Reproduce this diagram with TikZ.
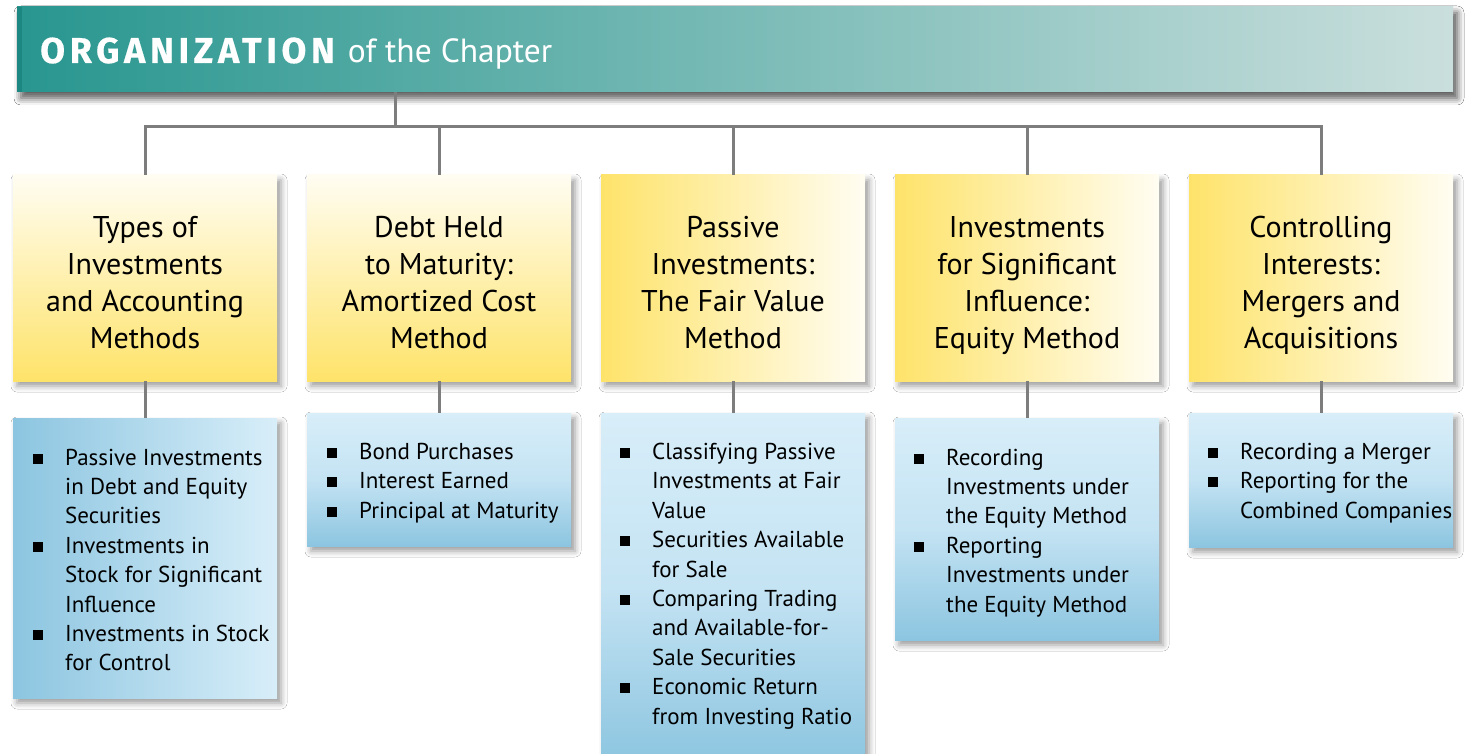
\documentclass[tikz,border=0pt]{standalone}
\usepackage{fontspec}
\setmainfont{PT Sans}
\newfontfamily\titlefont{Fira Sans}[LetterSpace=13,FakeBold=0.5]
\usetikzlibrary{shadows.blur}
\definecolor{tealL}{RGB}{40,150,143}
\definecolor{tealR}{RGB}{202,223,221}
\definecolor{tealS}{RGB}{28,135,128}
\definecolor{yD}{RGB}{254,227,106}
\definecolor{yL}{RGB}{255,253,242}
\definecolor{bD}{RGB}{140,197,224}
\definecolor{bL}{RGB}{216,238,249}
\definecolor{bM}{RGB}{196,227,243}
\definecolor{lineg}{RGB}{125,125,125}
\newcommand\ylines[1]{\vtop{\baselineskip=37.3pt\lineskiplimit=-50pt\halign{\hfil##\hfil\cr#1\crcr}}}
\newcommand\blines[1]{\vtop{\baselineskip=29.4pt\lineskiplimit=-50pt\halign{##\hfil\cr#1\crcr}}}
\newcommand\bt{\llap{\raisebox{1.5pt}{\rule{10pt}{10pt}}\hspace{22pt}}}
\begin{document}
\begin{tikzpicture}[x=1pt,y=-1pt,
  box/.style={draw=none,inner sep=0,outer sep=0,anchor=north west,minimum width=264pt,
    blur shadow={shadow xshift=4pt,shadow yshift=-5pt,shadow blur radius=6pt,shadow opacity=40}},
  yv/.style={box,minimum height=206pt,top color=yL,bottom color=yD},
  yh/.style={box,minimum height=206pt,left color=yD,right color=yL},
  bh/.style={box,left color=bD,right color=bL},
  bv/.style={box,top color=bL,bottom color=bD,middle color=bM},
  conn/.style={draw=lineg,line width=3pt},
  ytext/.style={anchor=base,inner sep=0,font=\fontsize{30}{37.3}\selectfont},
  btext/.style={anchor=base west,inner sep=0,font=\fontsize{23}{29.4}\selectfont}]
\useasboundingbox[fill=white] (0,0) rectangle (1466,754);
% header
\node[box,minimum width=1436pt,minimum height=85pt,left color=tealL,right color=tealR,
  blur shadow={shadow xshift=4pt,shadow yshift=-6pt,shadow blur radius=7pt,shadow opacity=40}] (hdr) at (17,7) {};
\node[draw=none,fill=tealS,inner sep=0,outer sep=0,anchor=north west,minimum width=5pt,minimum height=85pt] (hstrip) at (17,7) {};
\node[anchor=base west,inner sep=0,text=white] (title) at (40,63)
  {{\titlefont\bfseries\fontsize{36}{36}\selectfont ORGANIZATION}\hspace{13pt}{\fontsize{33.5}{35}\selectfont of the Chapter}};
% yellow boxes
\node[yv] (y1) at (13,175) {};
\node[yv] (y2) at (307,175) {};
\node[yh] (y3) at (601,175) {};
\node[yh] (y4) at (895,175) {};
\node[yh] (y5) at (1189,175) {};
% blue boxes
\node[bh,minimum height=280pt] (b1) at (13,418) {};
\node[bv,minimum height=133pt] (b2) at (307,413) {};
\node[bv,minimum height=350pt] (b3) at (601,413) {};
\node[bv,minimum height=222pt] (b4) at (895,418) {};
\node[bv,minimum height=134pt] (b5) at (1189,413) {};
% connectors
\coordinate (j) at (395,127);
\draw[conn] (hdr.south -| j) -- (j);
\draw[conn] (y1.north) -- (y1.north |- j) -- (y5.north |- j) -- (y5.north);
\foreach \i in {2,3,4}{\draw[conn] (y\i.north) -- (y\i.north |- j);}
\foreach \i in {1,...,5}{\draw[conn] (y\i.south) -- (b\i.north);}
% yellow texts
\node[ytext] (t1) at ([yshift=-62pt]y1.north) {\ylines{Types of\cr Investments\cr and Accounting\cr Methods}};
\node[ytext] (t2) at ([yshift=-62pt]y2.north) {\ylines{Debt Held\cr to Maturity:\cr Amortized Cost\cr Method}};
\node[ytext] (t3) at ([yshift=-62pt]y3.north) {\ylines{Passive\cr Investments:\cr The Fair Value\cr Method}};
\node[ytext] (t4) at ([yshift=-62pt]y4.north) {\ylines{Investments\cr for Significant\cr Influence:\cr Equity Method}};
\node[ytext] (t5) at ([yshift=-62pt]y5.north) {\ylines{Controlling\cr Interests:\cr Mergers and\cr Acquisitions}};
% blue texts
\node[btext] (l1) at ([xshift=52pt,yshift=-47pt]b1.north west) {\blines{\bt Passive Investments\cr in Debt and Equity\cr Securities\cr \bt Investments in\cr Stock for Significant\cr Influence\cr \bt Investments in Stock\cr for Control}};
\node[btext] (l2) at ([xshift=52pt,yshift=-46.5pt]b2.north west) {\blines{\bt Bond Purchases\cr \bt Interest Earned\cr \bt Principal at Maturity}};
\node[btext] (l3) at ([xshift=51pt,yshift=-46.5pt]b3.north west) {\blines{\bt Classifying Passive\cr Investments at Fair\cr Value\cr \bt Securities Available\cr for Sale\cr \bt Comparing Trading\cr and Available-for-\cr Sale Securities\cr \bt Economic Return\cr from Investing Ratio}};
\node[btext] (l4) at ([xshift=51pt,yshift=-47pt]b4.north west) {\blines{\bt Recording\cr Investments under\cr the Equity Method\cr \bt Reporting\cr Investments under\cr the Equity Method}};
\node[btext] (l5) at ([xshift=51pt,yshift=-46.5pt]b5.north west) {\blines{\bt Recording a Merger\cr \bt Reporting for the\cr Combined Companies}};
\end{tikzpicture}
\end{document}
